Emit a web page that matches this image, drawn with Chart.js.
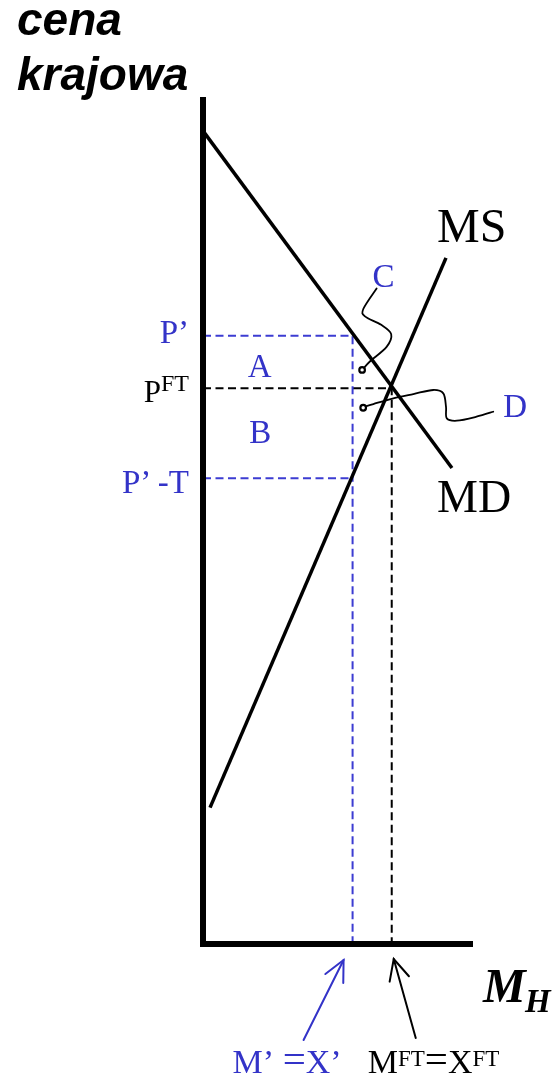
<!DOCTYPE html>
<html><head><meta charset="utf-8">
<script src="https://cdn.jsdelivr.net/npm/chart.js@4"></script>
<style>html,body{margin:0;padding:0;background:#fff;overflow:hidden}canvas{display:block}</style>
</head><body>
<canvas id="c" width="557" height="1085"></canvas>
<script>
// ---- data (quantity units 0..10, price units 0..100) ----
const quantityRange = [0, 10];
const priceRange = [0, 100];
const mdQuantity = [0, 9.22];
const mdPrice = [96.0, 56.2];
const msQuantity = [0.26, 9.0];
const msPrice = [16.1, 81.0];
const priceLabels = ["P’", "P|FT", "P’\u2009-T"];
const priceValues = [71.8, 65.6, 55.0];          // P', P^FT, P'-T
const quantityLabels = ["M’ =X’", "M|FT|=X|FT"];
const quantityValues = [5.54, 6.99];             // M'=X', M^FT=X^FT
const areaLabels = ["A", "B"];
const areaQuantity = [2.10, 2.12];
const areaPrice = [66.9, 59.2];
const curveLabels = ["MS", "MD"];
const curveLabelQuantity = [8.67, 8.67];
const curvePrice = [82.9, 51.0];
const pointerLabels = ["C", "D"];
const pointerQuantity = [6.28, 11.12];
const pointerPrice = [77.6, 62.2];
const cPathQ = [6.43, 5.94, 6.00, 6.60, 6.97, 6.80, 6.19, 5.93];
const cPathP = [77.4, 75.0, 74.1, 73.1, 72.0, 70.5, 68.8, 67.9];
const dPathQ = [5.97, 6.31, 7.05, 7.79, 8.53, 8.90, 9.00, 9.03, 9.40, 10.13, 10.75];
const dPathP = [63.43, 63.75, 64.42, 64.93, 65.41, 65.01, 63.43, 62.06, 61.78, 62.25, 62.84];

const BLUE = '#3333c8';
const BLUE_LINE = '#3c3cd2';
const SERIF = '"Liberation Serif", "Times New Roman", serif';
const SANS = '"Liberation Sans", Arial, sans-serif';

const pts = (xs, ys) => xs.map((x, i) => ({x, y: ys[i]}));

function runs(ctx, x, y, parts, align, color) {
  ctx.save();
  ctx.fillStyle = color;
  ctx.textBaseline = 'alphabetic';
  ctx.textAlign = 'left';
  let total = 0;
  parts.forEach(p => { ctx.font = p.font; total += ctx.measureText(p.t).width; });
  let cx = align === 'right' ? x - total : (align === 'center' ? x - total / 2 : x);
  parts.forEach(p => {
    ctx.font = p.font;
    ctx.fillText(p.t, cx, y + (p.dy || 0));
    cx += ctx.measureText(p.t).width;
  });
  ctx.restore();
}
// '|' toggles superscript; '=' is drawn a little larger (as in the slide)
function richParts(label, size, supSize, sup) {
  const out = [];
  label.split('|').forEach((t, i) => {
    if (i % 2 === 1) { out.push({t, font: `${supSize}px ${SERIF}`, dy: -sup}); return; }
    t.split(/(=)/).forEach(s => {
      if (!s) return;
      out.push(s === '=' ? {t: s, font: `${Math.round(size * 1.2)}px ${SERIF}`}
                         : {t: s, font: `${size}px ${SERIF}`});
    });
  });
  return out;
}
function smooth(ctx, p) {
  ctx.moveTo(p[0].x, p[0].y);
  for (let i = 0; i < p.length - 1; i++) {
    const p0 = p[i - 1] || p[i], p1 = p[i], p2 = p[i + 1], p3 = p[i + 2] || p2;
    const k = 1 / 6;
    ctx.bezierCurveTo(p1.x + (p2.x - p0.x) * k, p1.y + (p2.y - p0.y) * k,
                      p2.x - (p3.x - p1.x) * k, p2.y - (p3.y - p1.y) * k,
                      p2.x, p2.y);
  }
}
function arrow(ctx, tx, ty, hx, hy, color) {
  ctx.save();
  ctx.strokeStyle = color; ctx.lineWidth = 2; ctx.lineCap = 'round';
  ctx.beginPath(); ctx.moveTo(tx, ty); ctx.lineTo(hx, hy); ctx.stroke();
  const a = Math.atan2(hy - ty, hx - tx), L = 23, s = 0.45;
  ctx.beginPath();
  ctx.moveTo(hx - L * Math.cos(a - s), hy - L * Math.sin(a - s));
  ctx.lineTo(hx, hy);
  ctx.lineTo(hx - L * Math.cos(a + s), hy - L * Math.sin(a + s));
  ctx.stroke();
  ctx.restore();
}

const annotate = {
  id: 'annotate',
  afterDatasetsDraw(chart) {
    const ctx = chart.ctx, xs = chart.scales.x, ys = chart.scales.y;
    const X = v => xs.getPixelForValue(v), Y = v => ys.getPixelForValue(v);
    const ca = chart.chartArea;

    // axis titles
    runs(ctx, ca.left - 186, ca.top - 62, [{t: 'cena', font: `italic bold 46px ${SANS}`}], 'left', '#000');
    runs(ctx, ca.left - 186, ca.top - 7, [{t: 'krajowa', font: `italic bold 46px ${SANS}`}], 'left', '#000');
    runs(ctx, ca.right + 10, ca.bottom + 58, [{t: 'M', font: `italic bold 48px ${SERIF}`}], 'left', '#000');
    runs(ctx, ca.right + 52, ca.bottom + 68, [{t: 'H', font: `italic bold 33px ${SERIF}`}], 'left', '#000');

    // price labels
    const pOff = [7, 14, 15];
    const pCol = [BLUE, '#000', BLUE];
    const pSize = [33, 31, 33];
    priceLabels.forEach((lab, i) => {
      runs(ctx, X(0) - 14, Y(priceValues[i]) + pOff[i], richParts(lab, pSize[i], 24, 11), 'right', pCol[i]);
    });
    // quantity labels (bottom)
    const qLeft = [X(quantityValues[0]) - 120, X(quantityValues[1]) - 24];
    const qCol = [BLUE, '#000'];
    quantityLabels.forEach((lab, i) => {
      runs(ctx, qLeft[i], ca.bottom + 129, richParts(lab, 34, 23, 7), 'left', qCol[i]);
    });
    // arrows
    arrow(ctx, X(quantityValues[0]) - 49, ca.bottom + 96, X(quantityValues[0]) - 9, ca.bottom + 16, BLUE);
    arrow(ctx, X(quantityValues[1]) + 24, ca.bottom + 94, X(quantityValues[1]) + 2, ca.bottom + 15, '#000');

    // area labels
    areaLabels.forEach((lab, i) => runs(ctx, X(areaQuantity[i]), Y(areaPrice[i]), [{t: lab, font: `33px ${SERIF}`}], 'center', BLUE));
    // curve labels
    curveLabels.forEach((lab, i) => runs(ctx, X(curveLabelQuantity[i]), Y(curvePrice[i]), [{t: lab, font: `${i ? 46 : 48}px ${SERIF}`}], 'left', '#000'));
    // pointer labels
    pointerLabels.forEach((lab, i) => runs(ctx, X(pointerQuantity[i]), Y(pointerPrice[i]), [{t: lab, font: `33px ${SERIF}`}], 'left', BLUE));

    // pointer connectors
    ctx.save();
    ctx.strokeStyle = '#000'; ctx.lineWidth = 1.8; ctx.lineCap = 'round'; ctx.lineJoin = 'round';
    [[cPathQ, cPathP], [dPathQ, dPathP]].forEach(([q, p]) => {
      const path = q.map((v, i) => ({x: X(v), y: Y(p[i])}));
      ctx.beginPath(); smooth(ctx, path); ctx.stroke();
    });
    [[cPathQ[cPathQ.length - 1], cPathP[cPathP.length - 1]], [dPathQ[0], dPathP[0]]].forEach(([q, p]) => {
      ctx.beginPath(); ctx.arc(X(q) - 1, Y(p) + 1, 2.8, 0, Math.PI * 2);
      ctx.fillStyle = '#fff'; ctx.fill(); ctx.lineWidth = 2.2; ctx.stroke();
    });
    ctx.restore();
  }
};

const P1 = priceValues[0], PFT = priceValues[1], PT = priceValues[2];
const M1 = quantityValues[0], MFT = quantityValues[1];

new Chart(document.getElementById('c'), {
  type: 'scatter',
  data: {
    datasets: [
      { data: [{x: 0, y: priceRange[1]}, {x: 0, y: 0}, {x: quantityRange[1], y: 0}],
        borderColor: '#000', borderWidth: 6, borderJoinStyle: 'miter' },
      { data: pts(mdQuantity, mdPrice), borderColor: '#000', borderWidth: 3.5 },
      { data: pts(msQuantity, msPrice), borderColor: '#000', borderWidth: 3.5 },
      { data: [{x: 0, y: P1}, {x: M1, y: P1}, {x: M1, y: 0}], borderColor: BLUE_LINE, borderWidth: 2, borderDash: [8, 4.5] },
      { data: [{x: 0, y: PT}, {x: M1, y: PT}], borderColor: BLUE_LINE, borderWidth: 2, borderDash: [8, 4.5] },
      { data: [{x: 0, y: PFT}, {x: MFT, y: PFT}, {x: MFT, y: 0}], borderColor: '#000', borderWidth: 2, borderDash: [8, 4.5] }
    ].map(d => Object.assign({showLine: true, pointRadius: 0, pointHoverRadius: 0, tension: 0, clip: false}, d))
  },
  options: {
    responsive: false, devicePixelRatio: 1, animation: false,
    events: [],
    layout: { padding: { left: 203, right: 84, top: 97, bottom: 141 } },
    scales: {
      x: { type: 'linear', min: quantityRange[0], max: quantityRange[1], display: false },
      y: { type: 'linear', min: priceRange[0], max: priceRange[1], display: false }
    },
    plugins: { legend: { display: false }, tooltip: { enabled: false } }
  },
  plugins: [annotate]
});
</script>
</body></html>
